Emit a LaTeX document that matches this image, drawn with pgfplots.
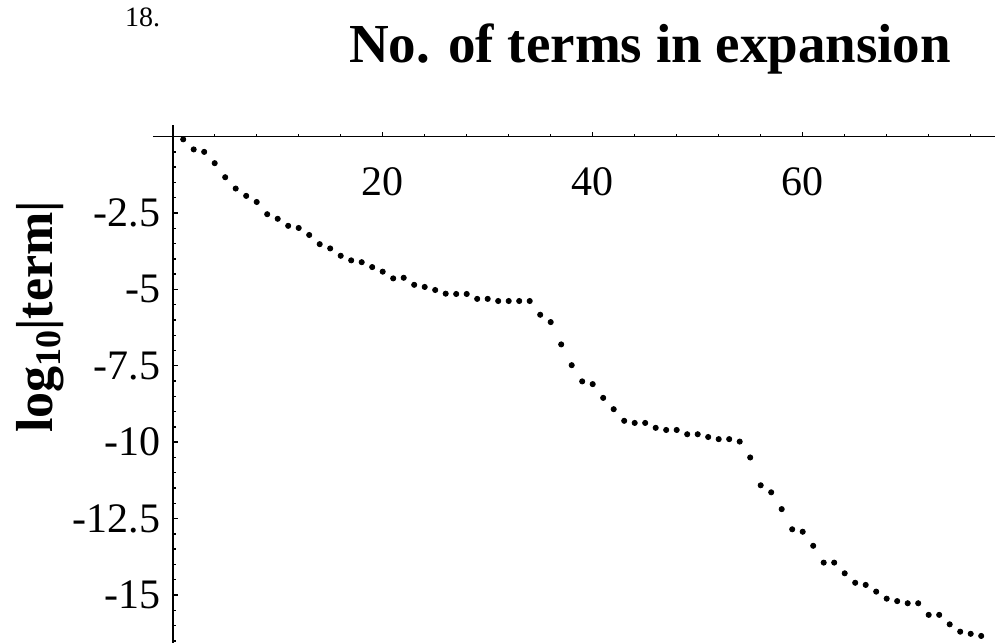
\documentclass[border=0pt]{standalone}
\usepackage{fontspec}
\setmainfont{Liberation Serif}
\usepackage{pgfplots}
\pgfplotsset{compat=1.18}
\begin{document}
\begin{tikzpicture}
\begin{axis}[
  x=5.25pt, y=15.28pt,
  xmin=-1.88, xmax=78.4, ymin=-16.6, ymax=0.38,
  axis lines=middle,
  axis line style={-, line width=0.9pt},
  clip=false,
  xtick={20,40,60},
  xticklabels={20,40,60},
  minor xtick={4,8,...,76},
  ytick={-15,-12.5,-10,-7.5,-5,-2.5},
  yticklabels={-15,-12.5,-10,-7.5,-5,-2.5},
  minor ytick={-16.5,-16,...,-0.5},
  tick align=inside,
  major tick length=2.5pt,
  minor tick length=1.5pt,
  every tick/.style={black, line width=0.7pt},
  tick label style={font=\fontsize{21}{24}\selectfont, inner sep=0pt},
  xticklabel style={anchor=center, yshift=-22.5pt},
  yticklabel style={anchor=east, xshift=-6pt},
]
\addplot[only marks, mark=*, mark size=1.3pt, black] coordinates {
(1,-0.09) (2,-0.42) (3,-0.50) (4,-0.87) (5,-1.33) (6,-1.70) (7,-1.94) (8,-2.14)
(9,-2.54) (10,-2.69) (11,-2.92) (12,-2.99) (13,-3.22) (14,-3.52) (15,-3.66)
(16,-3.90) (17,-4.05) (18,-4.11) (19,-4.27) (20,-4.42) (21,-4.64) (22,-4.62)
(23,-4.85) (24,-4.92) (25,-5.02) (26,-5.14) (27,-5.15) (28,-5.15) (29,-5.31)
(30,-5.31) (31,-5.38) (32,-5.38) (33,-5.38) (34,-5.38) (35,-5.83) (36,-6.07)
(37,-6.80) (38,-7.48) (39,-8.01) (40,-8.10) (41,-8.55) (42,-8.92) (43,-9.30)
(44,-9.37) (45,-9.37) (46,-9.53) (47,-9.60) (48,-9.60) (49,-9.74) (50,-9.74)
(51,-9.83) (52,-9.90) (53,-9.90) (54,-9.98) (55,-10.50) (56,-11.41) (57,-11.64)
(58,-12.19) (59,-12.85) (60,-12.93) (61,-13.39) (62,-13.94) (63,-13.94)
(64,-14.29) (65,-14.60) (66,-14.67) (67,-14.89) (68,-15.12) (69,-15.20)
(70,-15.27) (71,-15.27) (72,-15.65) (73,-15.65) (74,-15.96) (75,-16.20)
(76,-16.27) (77,-16.34)
};
\node[anchor=base, font=\fontsize{27.5}{31}\selectfont\bfseries] at (axis cs:45.46,2.41) {No. of terms in expansion};
\node[anchor=base west, font=\fontsize{14}{16}\selectfont] at (axis cs:-5.21,3.59) {18.};
\node[rotate=90, anchor=center, font=\fontsize{26}{30}\selectfont\bfseries] at (axis cs:-12.64,-5.90) {log\raisebox{-0.35ex}{\fontsize{18}{20}\selectfont 10}|term|};
\coordinate (BL) at (axis cs:-16.448,-16.538);
\coordinate (TR) at (axis cs:78.314,4.470);
\end{axis}
\pgfresetboundingbox
\useasboundingbox (BL) rectangle (TR);
\end{tikzpicture}
\end{document}
